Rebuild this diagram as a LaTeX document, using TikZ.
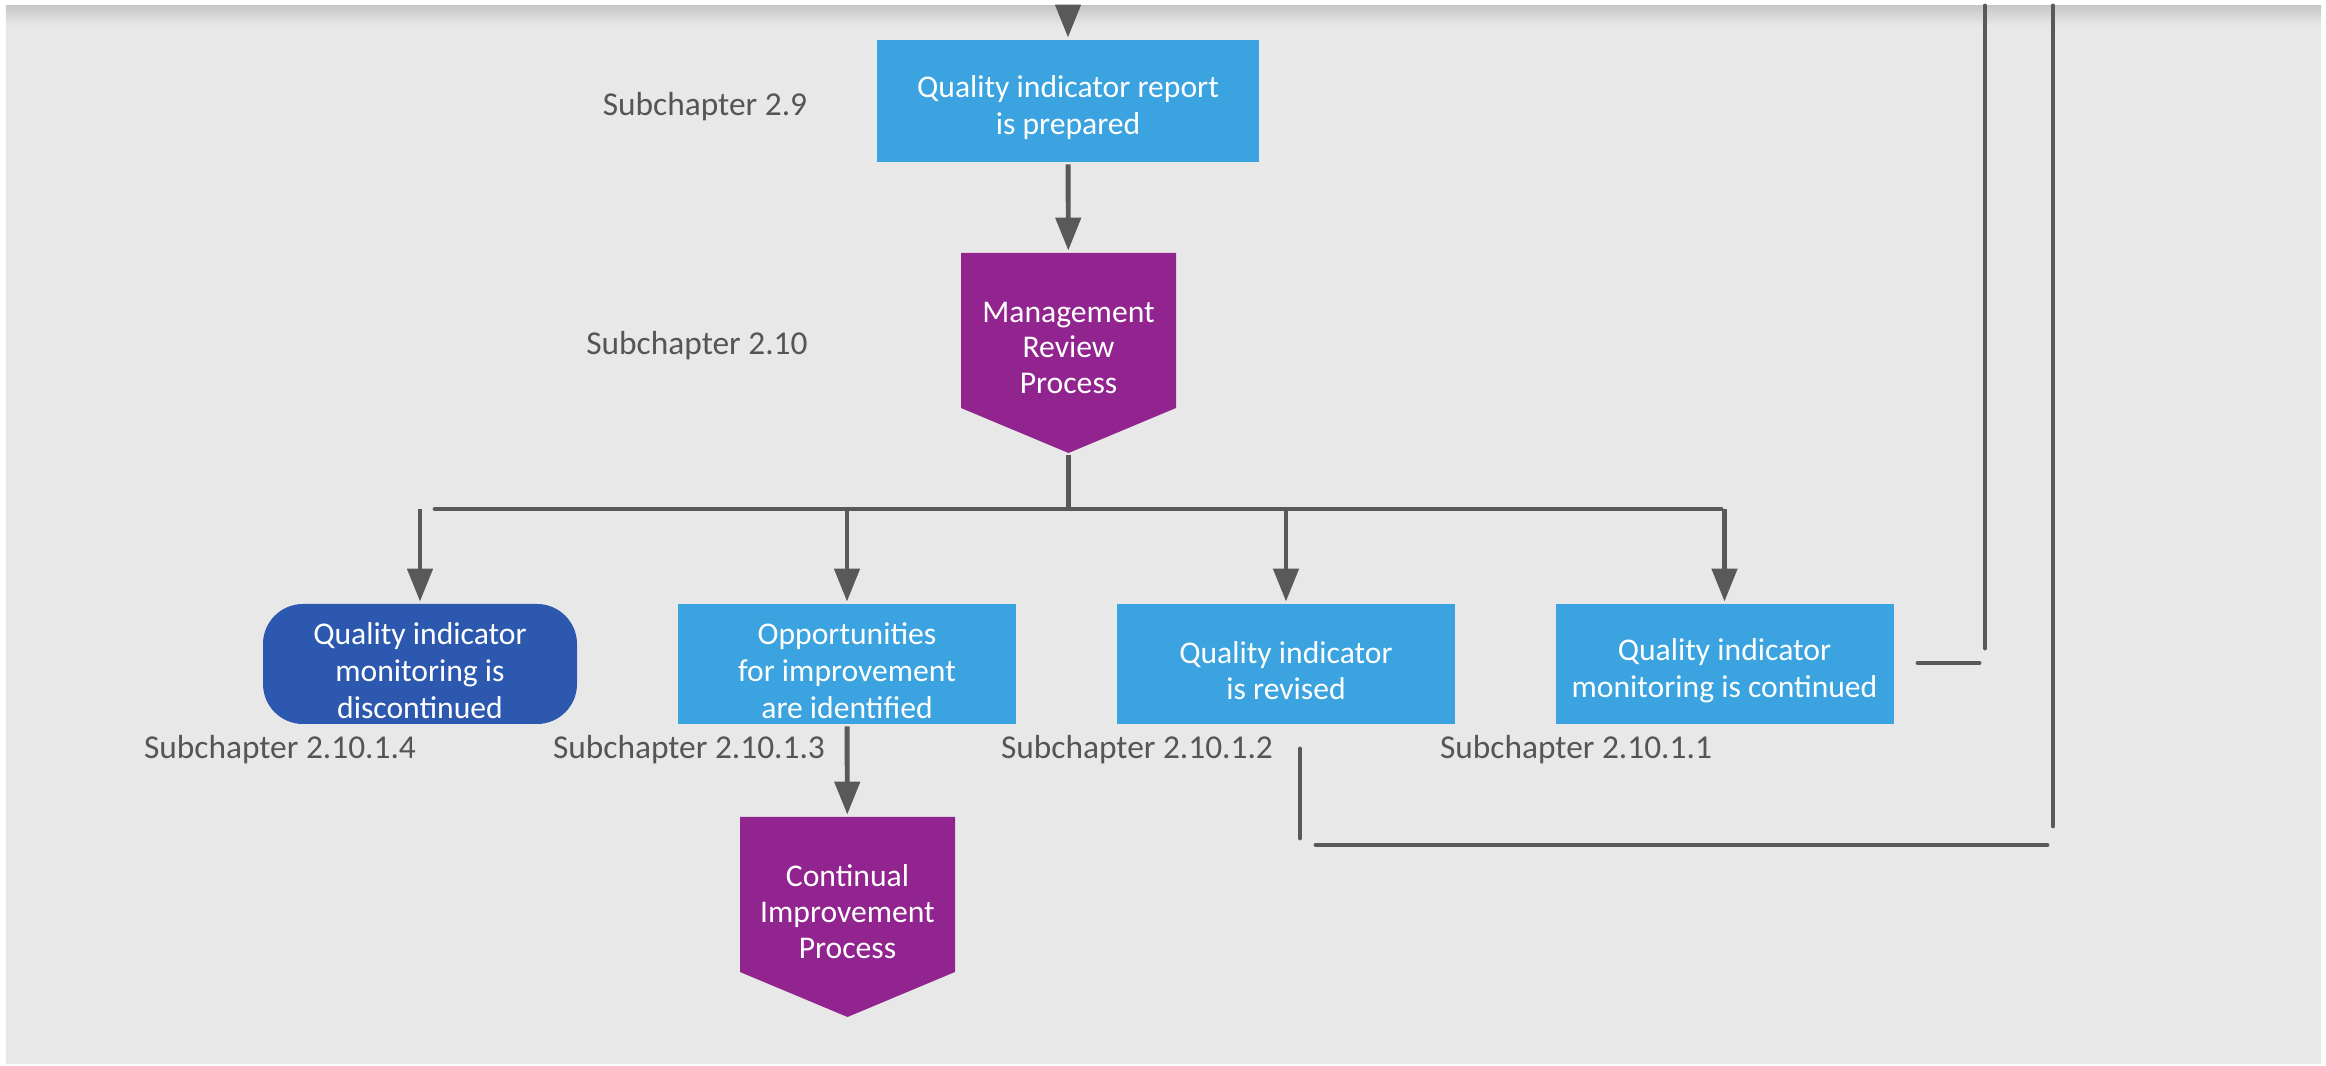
\documentclass[tikz,border=0pt]{standalone}
\usepackage{fontspec}
\setmainfont{Carlito}
\usepackage{tikz}
\usetikzlibrary{arrows.meta}
\usetikzlibrary{calc}
\newcommand \qistrut {\rule{0pt}{10pt}}
\definecolor{qiblue}{RGB}{58,163,224}
\definecolor{qidark}{RGB}{44,88,176}
\definecolor{qipurple}{RGB}{146,36,143}
\definecolor{qiline}{RGB}{88,89,91}
\definecolor{qibg}{RGB}{232,232,232}
\definecolor{qishadow}{RGB}{200,200,200}
\definecolor{qitext}{RGB}{85,85,85}
\tikzstyle{taskbox}=[rectangle,fill=qiblue,text=white,inner sep=0mm,minimum width=3.38cm,minimum height=1.2cm,align=center,font=\fontsize{9}{10.5}\selectfont]
\tikzstyle{endbox}=[taskbox,fill=qidark,rounded corners=0.4cm,minimum width=3.14cm]
\tikzstyle{procbox}=[rectangle,text=white,inner sep=0mm,minimum width=2.15cm,minimum height=2cm,align=center,font=\fontsize{9}{10.2}\selectfont,
  execute at end node={\rule[-3pt]{0pt}{3pt}},
  path picture={\fill[qipurple] (path picture bounding box.north west) -- (path picture bounding box.north east)
    -- ([yshift=-1.55cm]path picture bounding box.north east) -- (path picture bounding box.south)
    -- ([yshift=-1.55cm]path picture bounding box.north west) -- cycle;}]
\tikzstyle{sublabel}=[text=qitext,inner sep=0mm,font=\fontsize{9.5}{11}\selectfont]
\tikzstyle{arrow}=[qiline,-{Triangle[length=3.3mm,width=2.5mm]}]
\tikzstyle{wire}=[qiline,line cap=round]
\tikzset{every picture/.style={
    line width=1.4pt
  }
}

\begin{document}
\begin{tikzpicture}
      \useasboundingbox (0,0) rectangle (23.26,-10.66);
      \fill[white] (0,0) rectangle (23.26,-10.66);
      \fill[qibg] (0.06,-0.06) rectangle (23.21,-10.64);
      \shade[top color=qishadow,bottom color=qibg] (0.06,-0.06) rectangle (23.21,-0.26);
      % boxes
      \node[taskbox,minimum width=3.82cm,minimum height=1.22cm] at (10.68,-1.01) (report) {\qistrut Quality indicator report\\is prepared};
      \node[procbox] at (10.685,-3.53) (mgmt) {Management\\Review\\Process};
      \node[endbox] at (4.20,-6.64) (discont) {\qistrut Quality indicator\\monitoring is\\discontinued};
      \node[taskbox] at (8.47,-6.64) (opport) {\qistrut Opportunities\\for improvement\\are identified};
      \node[taskbox] at (12.86,-6.64) (revised) {\qistrut Quality indicator\\is revised};
      \node[taskbox] at (17.245,-6.64) (contin) {\qistrut Quality indicator\\monitoring is continued};
      \node[procbox] at (8.475,-9.17) (cip) {Continual\\Improvement\\Process};
      % labels
      \node[sublabel] at (7.05,-1.07) (s29) {Subchapter 2.9};
      \node[sublabel] at (6.97,-3.46) (s210) {Subchapter 2.10};
      \node[sublabel] at (2.80,-7.50) (s2104) {Subchapter 2.10.1.4};
      \node[sublabel] at (6.89,-7.50) (s2103) {Subchapter 2.10.1.3};
      \node[sublabel] at (11.37,-7.50) (s2102) {Subchapter 2.10.1.2};
      \node[sublabel] at (15.76,-7.50) (s2101) {Subchapter 2.10.1.1};
      % free ends
      \coordinate (in) at (10.68,-0.06);
      \coordinate (busL) at (4.35,-5.09);
      \coordinate (busR) at (17.21,-5.09);
      \coordinate (stubL) at (19.18,-6.63);
      \coordinate (stubR) at (19.79,-6.63);
      \coordinate (upA) at (19.85,-0.06);
      \coordinate (upAend) at (19.85,-6.48);
      \coordinate (upB) at (20.53,-0.06);
      \coordinate (upBend) at (20.53,-8.26);
      \coordinate (loopL) at (13.16,-8.45);
      \coordinate (loopR) at (20.47,-8.45);
      \coordinate (revA) at (13.00,-7.49);
      \coordinate (revB) at (13.00,-8.38);
      % connectors
      \draw[arrow] (in) -- (report);
      \draw[arrow] (report) -- (mgmt);
      \draw[qiline] (mgmt.south) -- (mgmt.south |- busL);
      \draw[wire] (busL) -- (busR);
      \draw[arrow] (discont.north |- busL) -- (discont);
      \draw[arrow] (opport.north |- busL) -- (opport);
      \draw[arrow] (revised.north |- busL) -- (revised);
      \draw[arrow] (contin.north |- busL) -- (contin);
      \draw[arrow] (opport) -- (cip);
      \draw[wire] (stubL) -- (stubR);
      \draw[wire] (upA) -- (upAend);
      \draw[wire] (upB) -- (upBend);
      \draw[wire] (loopL) -- (loopR);
      \draw[wire] (revA) -- (revB);
\end{tikzpicture}
\end{document}
